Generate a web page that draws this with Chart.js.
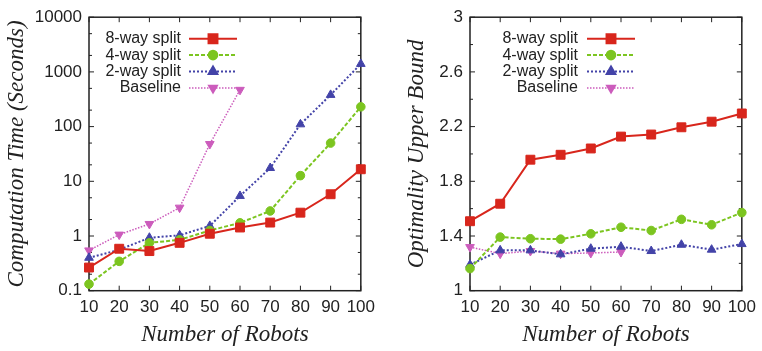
<!DOCTYPE html>
<html>
<head>
<meta charset="utf-8">
<script src="https://cdn.jsdelivr.net/npm/chart.js@4.4.1/dist/chart.umd.min.js"></script>
<style>
  html, body { margin: 0; padding: 0; background: #fff; }
  #wrap { position: relative; width: 762px; height: 351px; }
  .box { position: absolute; top: 0; width: 381px; height: 351px; }
</style>
</head>
<body>
<div id="wrap">
  <div class="box" style="left:0"><canvas id="timeChart"></canvas></div>
  <div class="box" style="left:381px"><canvas id="boundChart"></canvas></div>
</div>
<script>
const robots = [10, 20, 30, 40, 50, 60, 70, 80, 90, 100];
const seriesNames = ["8-way split", "4-way split", "2-way split", "Baseline"];

// computation time (seconds), log axis
const time8 = [0.265, 0.585, 0.53, 0.75, 1.1, 1.43, 1.76, 2.67, 5.8, 16.6];
const time4 = [0.132, 0.344, 0.75, 0.85, 1.26, 1.74, 2.87, 12.7, 50, 230];
const time2 = [0.40, 0.56, 0.93, 1.03, 1.53, 5.4, 17.5, 110, 380, 1400];
const timeBase = [0.545, 1.06, 1.66, 3.3, 48, 470];

// optimality upper bound
const bound8 = [1.508, 1.636, 1.958, 1.994, 2.04, 2.127, 2.142, 2.195, 2.236, 2.296];
const bound4 = [1.162, 1.392, 1.38, 1.377, 1.416, 1.464, 1.44, 1.522, 1.482, 1.571];
const bound2 = [1.19, 1.295, 1.295, 1.266, 1.307, 1.322, 1.29, 1.336, 1.30, 1.341];
const boundBase = [1.319, 1.271, 1.29, 1.271, 1.276, 1.283];

const timeTicks = [0.1, 1, 10, 100, 1000, 10000];
const timeMinor = [0.2, 0.5, 2, 5, 20, 50, 200, 500, 2000, 5000];
const boundTicks = [1, 1.4, 1.8, 2.2, 2.6, 3];
const boundMinor = [1.2, 1.6, 2.0, 2.4, 2.8];

const styles = [
  { color: "#d8261c", dash: [], width: 2, point: "rect", radius: 6.3, rot: 0 },
  { color: "#7cc520", dash: [4, 2], width: 2, point: "circle", radius: 4.3, rot: 0 },
  { color: "#4343a8", dash: [2, 2], width: 2, point: "triangle", radius: 5, rot: 0 },
  { color: "#cc5cbc", dash: [1.5, 1.5], width: 1.5, point: "triangle", radius: 5, rot: 180 }
];

function makeDatasets(series) {
  return series.map((vals, i) => {
    const s = styles[i];
    return {
      label: seriesNames[i],
      data: vals,
      borderColor: s.color,
      backgroundColor: s.color,
      borderWidth: s.width,
      borderDash: s.dash,
      pointStyle: s.point,
      pointRadius: s.radius,
      pointRotation: s.rot,
      pointBorderWidth: 1,
      pointBorderColor: s.color,
      pointBackgroundColor: s.color,
      tension: 0,
      clip: false
    };
  });
}

const framePlugin = {
  id: "frame",
  beforeDatasetsDraw(chart, args, opts) {
    const { ctx, chartArea: a, scales } = chart;
    const x = scales.x, y = scales.y;
    ctx.save();
    ctx.strokeStyle = "#222";
    ctx.lineWidth = 1;
    ctx.beginPath();
    x.ticks.forEach((t, i) => {
      const px = x.getPixelForTick(i);
      ctx.moveTo(px, a.bottom); ctx.lineTo(px, a.bottom - 5);
      ctx.moveTo(px, a.top); ctx.lineTo(px, a.top + 5);
    });
    const yTick = (v, len) => {
      const py = y.getPixelForValue(v);
      ctx.moveTo(a.left, py); ctx.lineTo(a.left + len, py);
      ctx.moveTo(a.right, py); ctx.lineTo(a.right - len, py);
    };
    y.ticks.forEach(t => yTick(t.value, 5));
    opts.minor.forEach(v => yTick(v, 3));
    ctx.stroke();
    ctx.lineWidth = 1.5;
    ctx.strokeRect(a.left, a.top, a.right - a.left, a.bottom - a.top);
    ctx.restore();
  }
};

const keyPlugin = {
  id: "key",
  afterDatasetsDraw(chart, args, opts) {
    const ctx = chart.ctx;
    ctx.save();
    chart.data.datasets.forEach((ds, i) => {
      const yy = opts.top + i * opts.step;
      ctx.font = '16px "Liberation Sans", Arial, sans-serif';
      ctx.fillStyle = "#222";
      ctx.textAlign = "right";
      ctx.textBaseline = "middle";
      ctx.fillText(ds.label, opts.right, yy);
      ctx.strokeStyle = ds.borderColor;
      ctx.lineWidth = ds.borderWidth;
      ctx.setLineDash(ds.borderDash);
      ctx.beginPath();
      ctx.moveTo(opts.x0, yy); ctx.lineTo(opts.x1, yy);
      ctx.stroke();
      ctx.setLineDash([]);
      ctx.fillStyle = ds.pointBackgroundColor;
      Chart.helpers.drawPoint(ctx, {
        pointStyle: ds.pointStyle, rotation: ds.pointRotation,
        radius: ds.pointRadius, borderWidth: 1
      }, (opts.x0 + opts.x1) / 2, yy);
    });
    ctx.restore();
  }
};

const tickFont = { family: '"Liberation Sans", Arial, sans-serif', size: 17 };
const titleFont = { family: '"Liberation Serif", "Times New Roman", serif', size: 23, style: "italic" };

function buildChart(id, series, yOpts, yTitle, titlePad, key, minor) {
  return new Chart(document.getElementById(id), {
    type: "line",
    data: { labels: robots, datasets: makeDatasets(series) },
    options: {
      responsive: true,
      maintainAspectRatio: false,
      animation: false,
      layout: { padding: { left: 0, top: 15, right: 14.5, bottom: 0 } },
      plugins: { legend: { display: false }, tooltip: { enabled: false }, frame: { minor: minor }, key: key },
      scales: {
        x: {
          type: "category",
          offset: false,
          grid: { display: false, drawTicks: false },
          border: { display: false },
          ticks: { font: tickFont, color: "#222", padding: 6, maxRotation: 0, autoSkip: false },
          title: { display: true, text: "Number of Robots", font: titleFont, color: "#222", padding: { top: 0, bottom: 2 } },
          afterFit: s => { s.height = 60.3; }
        },
        y: Object.assign({
          grid: { display: false, drawTicks: false },
          border: { display: false },
          title: { display: true, text: yTitle, font: titleFont, color: "#222", padding: { top: titlePad, bottom: 0 } },
          afterFit: s => { s.width = 89; }
        }, yOpts)
      }
    },
    plugins: [framePlugin, keyPlugin]
  });
}

buildChart("timeChart", [time8, time4, time2, timeBase], {
  type: "logarithmic",
  min: 0.1,
  max: 10000,
  afterBuildTicks: s => { s.ticks = timeTicks.map(v => ({ value: v })); },
  ticks: { font: tickFont, color: "#222", padding: 7, callback: v => String(v) }
}, "Computation Time (Seconds)", 3,
  { right: 181, x0: 189, x1: 237, top: 38.7, step: 16.4 }, timeMinor);

buildChart("boundChart", [bound8, bound4, bound2, boundBase], {
  type: "linear",
  min: 1,
  max: 3,
  afterBuildTicks: s => { s.ticks = boundTicks.map(v => ({ value: v })); },
  ticks: { font: tickFont, color: "#222", padding: 7, callback: v => String(v) }
}, "Optimality Upper Bound", 22,
  { right: 197, x0: 206, x1: 254, top: 38.7, step: 16.4 }, boundMinor);
</script>
</body>
</html>
